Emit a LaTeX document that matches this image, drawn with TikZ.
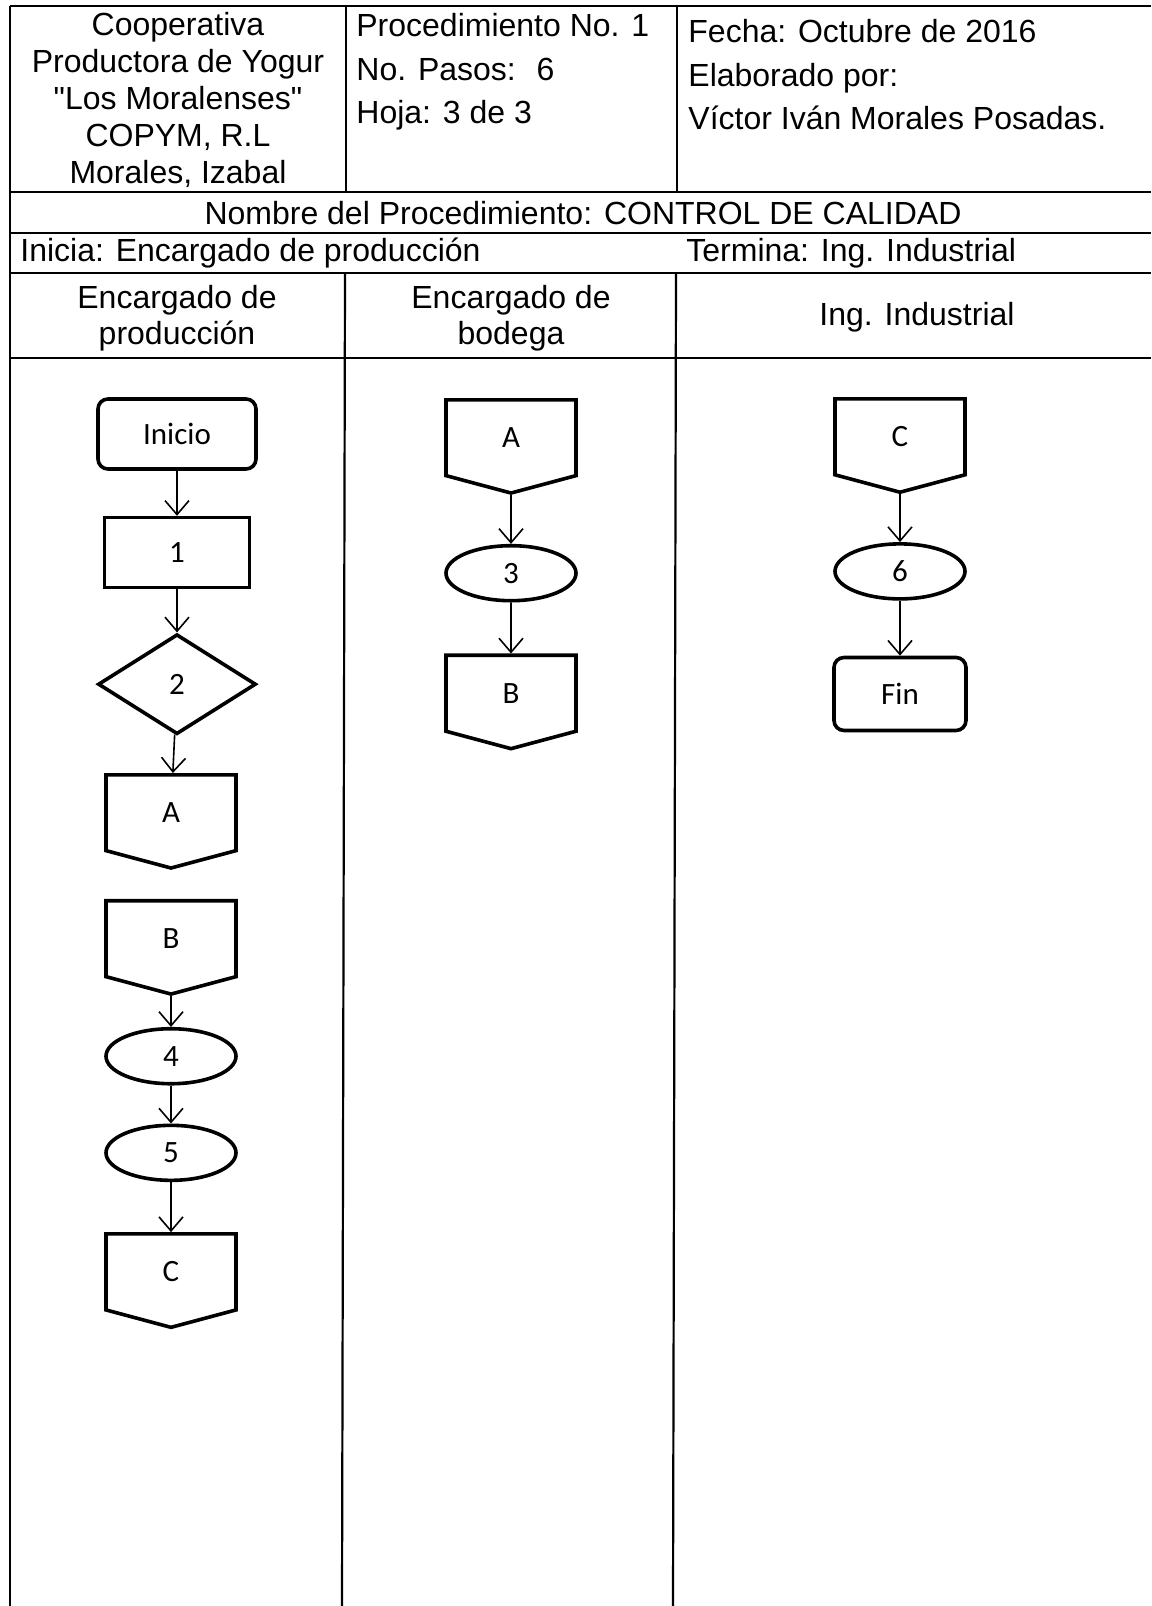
\documentclass[tikz,border=0pt]{standalone}
\usepackage{fontspec}
\setmainfont{Liberation Sans}
\newfontfamily\shapefont{Carlito}
\usepackage{tikz}
\usetikzlibrary{positioning, shapes.geometric, shapes.symbols, arrows.meta}
\tikzset{
    table/.style={line width=1.1pt},
    cell/.style={inner sep=0pt, font=\fontsize{16pt}{18.5pt}\selectfont},
    term/.style={rectangle, rounded corners=5pt, draw, line width=1.8pt, minimum width=79pt, minimum height=35pt, font=\shapefont\fontsize{15.5pt}{17pt}\selectfont},
    proc/.style={rectangle, draw, line width=1.8pt, minimum width=72.5pt, minimum height=35pt, font=\shapefont\fontsize{15.5pt}{17pt}\selectfont},
    dec/.style={diamond, draw, line width=1.8pt, minimum width=79pt, minimum height=50pt, inner sep=0pt, font=\shapefont\fontsize{15.5pt}{17pt}\selectfont},
    oper/.style={ellipse, draw, line width=1.8pt, minimum width=65pt, minimum height=27.5pt, inner sep=0pt, font=\shapefont\fontsize{15.5pt}{17pt}\selectfont},
    offpage/.style={signal, signal to=south, signal pointer angle=150, draw, line width=1.8pt, minimum width=65pt, minimum height=40pt, font=\shapefont\fontsize{15.5pt}{17pt}\selectfont},
    flow/.style={-{Straight Barb[length=7pt,width=12pt]}, line width=0.8pt},
}
\begin{document}
\begin{tikzpicture}[x=0.5pt, y=-0.5pt]
    \useasboundingbox (0,0) rectangle (1151,1606);
    % tabla
    \draw[table] (10,6) -- (1151,6);
    \draw[table] (10,6) -- (10,1606);
    \foreach \y in {192,233,273,358}
        \draw[table] (10,\y) -- (1151,\y);
    \draw[table] (346,6) -- (346,192);
    \draw[table] (677,6) -- (677,192);
    \draw[table] (345,273) -- (342,1606);
    \draw[table] (676,273) -- (673,1606);
    % encabezado
    \node[cell, align=center] (empresa) at (178,100) {Cooperativa\\Productora de Yogur\\\textquotedbl Los Moralenses\textquotedbl\\COPYM, R.L\\Morales, Izabal};
    \node[cell, align=left, anchor=west, font=\fontsize{16pt}{21.75pt}\selectfont] (proced) at (356,72) {Procedimiento No. 1\\No. Pasos: \ 6\\Hoja: 3 de 3};
    \node[cell, align=left, anchor=west, font=\fontsize{16pt}{21.75pt}\selectfont] (fecha) at (688,75) {Fecha: Octubre de 2016\\Elaborado por:\\Víctor Iván Morales Posadas.};
    \node[cell] (nombre) at (583,213) {Nombre del Procedimiento: CONTROL DE CALIDAD};
    \node[cell, anchor=west] (inicia) at (20,253) {Inicia: Encargado de producción};
    \node[cell, anchor=west] (termina) at (686,253) {Termina: Ing. Industrial};
    \node[cell, align=center, font=\fontsize{16pt}{18pt}\selectfont] (carril1) at (177,318) {Encargado de\\producción};
    \node[cell, align=center, font=\fontsize{16pt}{18pt}\selectfont] (carril2) at (511,318) {Encargado de\\bodega};
    \node[cell] (carril3) at (917,317) {Ing. Industrial};
    % encargado de produccion
    \node[term] (inicio) at (177,434) {Inicio};
    \node[proc] (uno) [below=22.5pt of inicio] {1};
    \node[dec] (dos) [below=21.5pt of uno] {2};
    \node[offpage] (salA) [below=18.5pt of dos, xshift=-3pt] {A};
    \node[offpage] (entB) [below=14.5pt of salA] {B};
    \node[oper] (cuatro) [below=15.5pt of entB] {4};
    \node[oper] (cinco) [below=19pt of cuatro] {5};
    \node[offpage] (salC) [below=25pt of cinco] {C};
    % encargado de bodega
    \node[offpage, anchor=north] (entA) at (511,398) {A};
    \node[oper] (tres) [below=24.5pt of entA] {3};
    \node[offpage] (salB) [below=25.5pt of tres] {B};
    % ing. industrial
    \node[offpage, anchor=north] (entC) at (900,397) {C};
    \node[oper] (seis) [below=24pt of entC] {6};
    \node[term, minimum width=66pt, minimum height=36.5pt] (fin) [below=27.5pt of seis] {Fin};
    \draw[flow] (inicio) -- (uno);
    \draw[flow] (uno) -- (dos);
    \draw[flow] (dos) -- (salA);
    \draw[flow] (entB) -- (cuatro);
    \draw[flow] (cuatro) -- (cinco);
    \draw[flow] (cinco) -- (salC);
    \draw[flow] (entA) -- (tres);
    \draw[flow] (tres) -- (salB);
    \draw[flow] (entC) -- (seis);
    \draw[flow] (seis) -- (fin);
\end{tikzpicture}
\end{document}
